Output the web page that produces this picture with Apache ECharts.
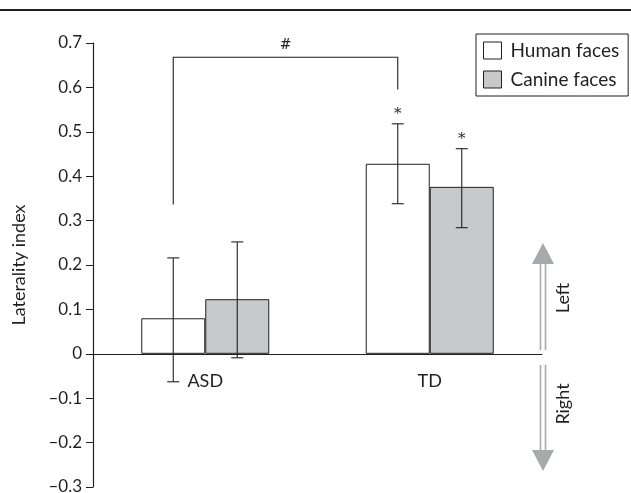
<!DOCTYPE html>
<html>
<head>
<meta charset="utf-8">
<script src="https://cdn.jsdelivr.net/npm/echarts@6/dist/echarts.min.js"></script>
<style>html,body{margin:0;padding:0;background:#fff;}#c{width:631px;height:493px;}</style>
</head>
<body>
<div id="c"></div>
<script>
const categories = ['ASD', 'TD'];
const seriesNames = ['Human faces', 'Canine faces'];
const humanValues = [0.080, 0.428];
const canineValues = [0.123, 0.376];
const humanLow = [-0.063, 0.338];
const humanHigh = [0.216, 0.518];
const canineLow = [-0.009, 0.284];
const canineHigh = [0.252, 0.462];
const humanStars = ['', '*'];
const canineStars = ['', '*'];
const bracketLeftY = 0.336;
const bracketTopY = 0.668;
const bracketRightY = 0.595;
const bracketLabel = '#';
const yTicks = { min: -0.3, max: 0.7, interval: 0.1 };

const FONT = 'Lato, "Open Sans", sans-serif';
const INK = '#231f20';
const BAR_W = 64;
const HALF = BAR_W / 2;

const chart = echarts.init(document.getElementById('c'), null, { renderer: 'canvas' });

function errRender(lows, highs, stars, dx) {
  return function (params, api) {
    const i = params.dataIndex;
    const c = api.coord([i, lows[i]]);
    const t = api.coord([i, highs[i]]);
    const x = c[0] + dx;
    const cap = 6;
    const st = { stroke: INK, lineWidth: 1.1 };
    const children = [
      { type: 'line', shape: { x1: x, y1: t[1], x2: x, y2: c[1] }, style: st },
      { type: 'line', shape: { x1: x - cap, y1: t[1], x2: x + cap, y2: t[1] }, style: st },
      { type: 'line', shape: { x1: x - cap, y1: c[1], x2: x + cap, y2: c[1] }, style: st }
    ];
    if (stars[i]) {
      children.push({ type: 'text', style: { text: stars[i], x: x, y: t[1] - 2, align: 'center', verticalAlign: 'bottom', font: '15px "DejaVu Serif", serif', fill: INK } });
    }
    return { type: 'group', children: children };
  };
}

const option = {
  animation: false,
  backgroundColor: '#fff',
  grid: { left: 93, right: 89, top: 43, bottom: 6, containLabel: false, outerBoundsMode: 'none' },
  legend: {
    left: 476, top: 34,
    orient: 'vertical',
    data: seriesNames,
    icon: 'rect',
    itemWidth: 18, itemHeight: 17,
    itemGap: 10,
    padding: [7, 9, 7, 7],
    borderColor: INK, borderWidth: 1,
    backgroundColor: '#fff',
    itemStyle: { borderColor: INK, borderWidth: 1 },
    textStyle: { fontFamily: FONT, fontSize: 19, color: INK, padding: [0, 0, 0, 4] }
  },
  xAxis: {
    type: 'category',
    data: categories,
    axisLine: { onZero: true, lineStyle: { color: INK, width: 1.2 } },
    axisTick: { show: false },
    axisLabel: { show: false },
    splitLine: { show: false }
  },
  yAxis: {
    type: 'value',
    min: yTicks.min, max: yTicks.max, interval: yTicks.interval,
    name: 'Laterality index',
    nameLocation: 'middle',
    nameRotate: 90,
    nameGap: 65,
    nameTextStyle: { fontFamily: FONT, fontSize: 18, color: INK },
    axisLine: { show: true, onZero: false, lineStyle: { color: INK, width: 1.2 } },
    axisTick: { show: true, length: 7, lineStyle: { color: INK } },
    axisLabel: {
      margin: 11, fontFamily: FONT, fontSize: 17, color: INK,
      formatter: v => { const s = (Math.round(v * 10) / 10).toString(); return s.replace('-', '\u2013'); }
    },
    splitLine: { show: false }
  },
  series: [
    { name: seriesNames[0], type: 'bar', data: humanValues, barWidth: BAR_W, barGap: '0%',
      itemStyle: { color: '#ffffff', borderColor: INK, borderWidth: 1 }, z: 2 },
    { name: seriesNames[1], type: 'bar', data: canineValues, barWidth: BAR_W, barGap: '0%',
      itemStyle: { color: '#c8c9cb', borderColor: INK, borderWidth: 1 }, z: 2 },
    { type: 'custom', data: humanValues.map((v, i) => i), renderItem: errRender(humanLow, humanHigh, humanStars, -HALF), z: 5, silent: true },
    { type: 'custom', data: canineValues.map((v, i) => i), renderItem: errRender(canineLow, canineHigh, canineStars, HALF), z: 5, silent: true },
    { type: 'custom', data: categories.map((c, i) => i), z: 5, silent: true,
      renderItem: function (params, api) {
        const i = params.dataIndex;
        const p = api.coord([i, 0]);
        return { type: 'text', style: { text: categories[i], x: p[0], y: p[1] + 27, align: 'center', verticalAlign: 'middle', font: '18px ' + FONT, fill: INK } };
      } },
    { type: 'custom', data: [0], z: 5, silent: true,
      renderItem: function (params, api) {
        const a = api.coord([0, bracketLeftY]);
        const b = api.coord([0, bracketTopY]);
        const c = api.coord([1, bracketTopY]);
        const d = api.coord([1, bracketRightY]);
        const xl = a[0] - HALF, xr = c[0] - HALF;
        return { type: 'group', children: [
          { type: 'polyline', shape: { points: [[xl, a[1]], [xl, b[1]], [xr, c[1]], [xr, d[1]]] }, style: { stroke: INK, lineWidth: 1.1, fill: null } },
          { type: 'text', style: { text: bracketLabel, x: (xl + xr) / 2, y: b[1] - 5, align: 'center', verticalAlign: 'bottom', font: '14px "DejaVu Serif", serif', fill: INK } }
        ] };
      } }
  ],
  graphic: [
    { type: 'line', shape: { x1: 0, y1: 10, x2: 631, y2: 10 }, style: { stroke: INK, lineWidth: 2 } },
    { type: 'line', shape: { x1: 540.5, y1: 262, x2: 540.5, y2: 350 }, style: { stroke: '#a7a9ac', lineWidth: 1.6 } },
    { type: 'line', shape: { x1: 545.5, y1: 262, x2: 545.5, y2: 350 }, style: { stroke: '#a7a9ac', lineWidth: 1.6 } },
    { type: 'polygon', shape: { points: [[543, 243], [532, 264], [554, 264]] }, style: { fill: '#a7a9ac' } },
    { type: 'text', x: 563, y: 298, rotation: Math.PI / 2, style: { text: 'Left', align: 'center', verticalAlign: 'middle', font: '18px ' + FONT, fill: INK } },
    { type: 'line', shape: { x1: 540.5, y1: 365, x2: 540.5, y2: 452 }, style: { stroke: '#a7a9ac', lineWidth: 1.6 } },
    { type: 'line', shape: { x1: 545.5, y1: 365, x2: 545.5, y2: 452 }, style: { stroke: '#a7a9ac', lineWidth: 1.6 } },
    { type: 'polygon', shape: { points: [[532, 450], [554, 450], [543, 471]] }, style: { fill: '#a7a9ac' } },
    { type: 'text', x: 563, y: 404, rotation: Math.PI / 2, style: { text: 'Right', align: 'center', verticalAlign: 'middle', font: '18px ' + FONT, fill: INK } }
  ]
};
chart.setOption(option);
</script>
</body>
</html>
